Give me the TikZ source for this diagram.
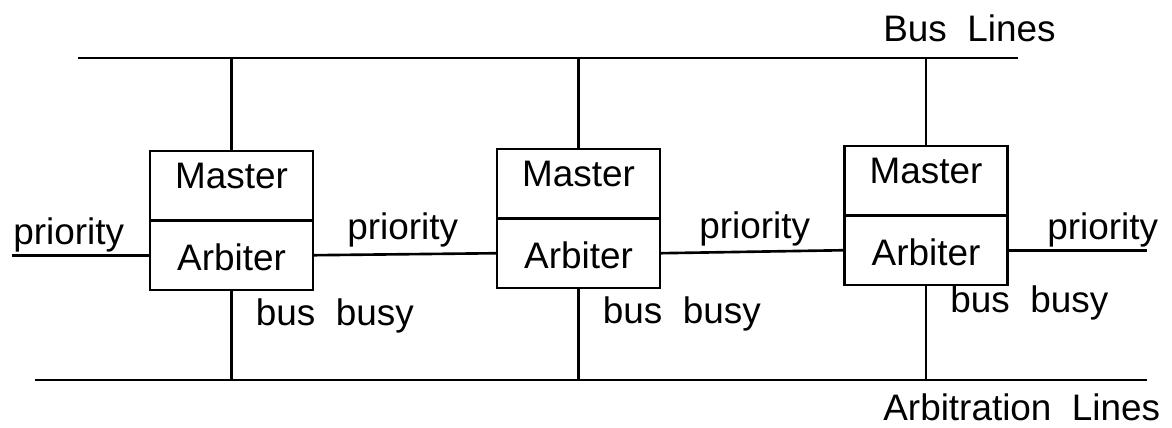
\documentclass[tikz,border=0pt]{standalone}
\usepackage{fontspec}
\setmainfont{Liberation Sans}
\usetikzlibrary{calc}

\tikzset{
  wire/.style={draw,line width=1.5pt},
  half/.style={draw,line width=1.5pt,minimum width=3.26cm,minimum height=1.39cm,inner sep=0pt,outer sep=0pt},
  txt/.style={inner sep=0pt,font=\fontsize{21}{25}\selectfont}
}

\begin{document}
\begin{tikzpicture}[x=0.02cm,y=-0.02cm]
      \useasboundingbox (0,0) rectangle (1172,428);
      \coordinate (busL) at (78,58);
      \coordinate (busR) at (1018,58);
      \coordinate (arbL) at (35,380);
      \coordinate (arbR) at (1147,380);
      \coordinate (prioL) at (12,0);
      \coordinate (prioR) at (1147,0);
      \path[wire] (busL) -- (busR);
      \path[wire] (arbL) -- (arbR);
      \node[txt,anchor=base west] (buslbl) at (883,42) {Bus\ \ Lines};
      \node[txt,anchor=base west] (arblbl) at (883,420) {Arbitration\ \ Lines};
      \foreach \i/\xbox/\ybox/\ybusy in {1/231.5/151/325, 2/578.5/149/325, 3/926/146/317} {
        \node[half,anchor=north] (m\i) at (\xbox,\ybox) {};
        \node[half,anchor=north] (a\i) at (m\i.south) {};
        \node[txt,anchor=base] (mt\i) at ($(m\i.north)+(0,38)$) {Master};
        \node[txt,anchor=base] (at\i) at ($(a\i.north)+(0,50)$) {Arbiter};
        \path[wire] (m\i.north) -- (m\i.north |- busL);
        \path[wire] (a\i.south) -- (a\i.south |- arbL);
        \node[txt,anchor=base west] (bb\i) at ($(a\i.south)+(24,\ybusy-289)$) {bus\ \ busy};
      }
      \path[wire] (prioL |- a1.west) -- (a1.west);
      \path[wire] (a1.east) -- (a2.west);
      \path[wire] (a2.east) -- (a3.west);
      \path[wire] (a3.east) -- (prioR |- a3.east);
      \node[txt,anchor=base west] (p0) at (13,245) {priority};
      \node[txt,anchor=base west] (p1) at (347,240) {priority};
      \node[txt,anchor=base west] (p2) at (699,239) {priority};
      \node[txt,anchor=base west] (p3) at (1047,240) {priority};
    \end{tikzpicture}
\end{document}
